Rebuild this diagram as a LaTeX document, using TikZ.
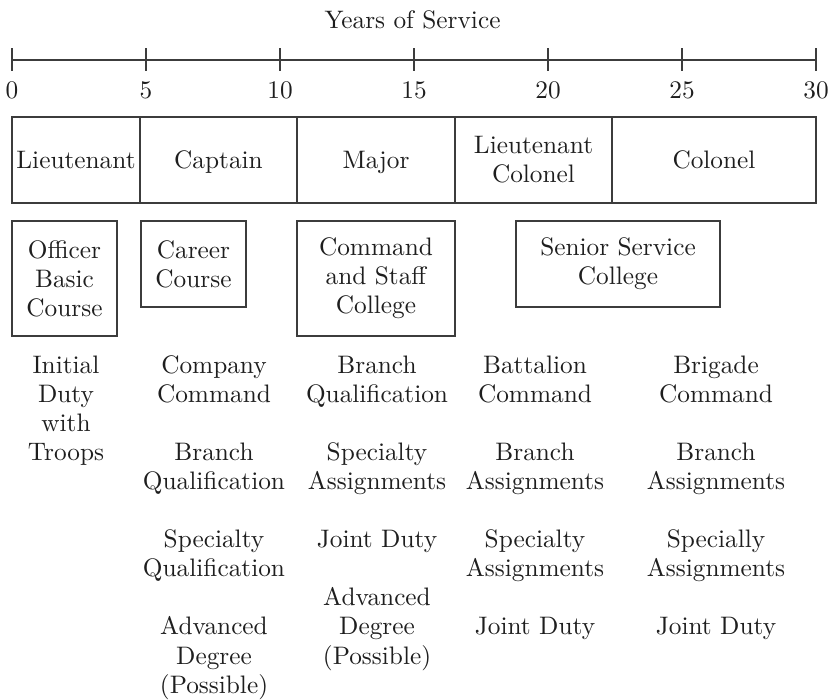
\documentclass[tikz,border=0pt]{standalone}
\usepackage{fontspec}
\setmainfont{lmroman10-regular.otf}
\definecolor{ink}{RGB}{30,30,30}
\definecolor{rule}{RGB}{60,60,60}
\tikzset{
  txt/.style={font=\fontsize{25.3}{29.1}\selectfont, text=ink, inner sep=0pt, align=center},
  oneline/.style={text height=17.3pt, text depth=0pt},
  rankbox/.style={txt, draw=rule, line width=1.3pt, minimum height=86pt},
  coursebox/.style={txt, draw=rule, line width=1.3pt},
  duty/.style={txt, anchor=base},
  axisline/.style={draw=rule, line width=1.3pt}
}
\begin{document}
\begin{tikzpicture}[x=1pt,y=-1pt]
\useasboundingbox (0,0) rectangle (837,699);
% title and axis
\node[txt, anchor=base] (title) at (412.5,28) {Years of Service};
\draw[axisline] (12,60) -- (816,60);
\foreach \v [count=\i from 0] in {0,5,10,15,20,25,30} {
  \draw[axisline] ({12+134*\i},48) -- ({12+134*\i},71);
  \node[txt, anchor=base] (yr\v) at ({12+134*\i},98) {\v};
}
% ranks
\node[rankbox, oneline, minimum width=128pt] (lt)  at (76,160)    {Lieutenant};
\node[rankbox, oneline, minimum width=157pt] (cpt) at (218.5,160) {Captain};
\node[rankbox, oneline, minimum width=158pt] (maj) at (376,160)   {Major};
\node[rankbox, minimum width=157pt] (ltc) at (533.5,160) {Lieutenant\\Colonel};
\node[rankbox, oneline, minimum width=204pt] (col) at (714,160)   {Colonel};
% courses
\node[coursebox, minimum width=105pt, minimum height=115pt] (obc) at (64.5,278.5) {Officer\\Basic\\Course};
\node[coursebox, minimum width=105pt, minimum height=86pt] (cc) at (193.5,264) {Career\\Course};
\node[coursebox, minimum width=158pt, minimum height=115pt] (csc) at (376,278.5) {Command\\and Staff\\College};
\node[coursebox, minimum width=204pt, minimum height=86pt] (ssc) at (618,264) {Senior Service\\College};
% duties (anchored at the baseline of the last line)
\node[duty] (d1a) at (66,460.3)  {Initial\\Duty\\with\\Troops};
\node[duty] (d2a) at (214,402.1) {Company\\Command};
\node[duty] (d2b) at (214,489.4) {Branch\\Qualification};
\node[duty] (d2c) at (214,576.7) {Specialty\\Qualification};
\node[duty] (d2d) at (214,693.1) {Advanced\\Degree\\(Possible)};
\node[duty] (d3a) at (377,402.1) {Branch\\Qualification};
\node[duty] (d3b) at (377,489.4) {Specialty\\Assignments};
\node[duty] (d3c) at (377,547.6) {Joint Duty};
\node[duty] (d3d) at (377,664)   {Advanced\\Degree\\(Possible)};
\node[duty] (d4a) at (535,402.1) {Battalion\\Command};
\node[duty] (d4b) at (535,489.4) {Branch\\Assignments};
\node[duty] (d4c) at (535,576.7) {Specialty\\Assignments};
\node[duty] (d4d) at (535,634.9) {Joint Duty};
\node[duty] (d5a) at (716,402.1) {Brigade\\Command};
\node[duty] (d5b) at (716,489.4) {Branch\\Assignments};
\node[duty] (d5c) at (716,576.7) {Specially\\Assignments};
\node[duty] (d5d) at (716,634.9) {Joint Duty};
\end{tikzpicture}
\end{document}
